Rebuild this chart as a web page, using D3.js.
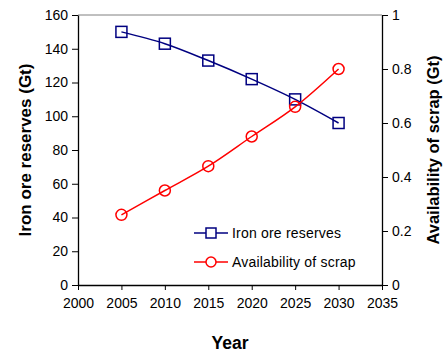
<!DOCTYPE html>
<html>
<head>
<meta charset="utf-8">
<script src="https://cdn.jsdelivr.net/npm/d3@7"></script>
<style>
  body { margin: 0; background: #fff; }
  svg { display: block; font-family: "Liberation Sans", Arial, sans-serif; }
</style>
</head>
<body>
<svg id="chart" width="445" height="356"></svg>
<script>
// Data series
const years = [2005, 2010, 2015, 2020, 2025, 2030];
const ironOreReserves = [150, 143, 133, 122, 110, 96];      // Gt, left axis
const scrapAvailability = [0.26, 0.35, 0.44, 0.55, 0.66, 0.80]; // Gt, right axis
const xTicks = [2000, 2005, 2010, 2015, 2020, 2025, 2030, 2035];
const yLeftTicks = [0, 20, 40, 60, 80, 100, 120, 140, 160];
const yRightTicks = [0, 0.2, 0.4, 0.6, 0.8, 1];
const seriesNames = ["Iron ore reserves", "Availability of scrap"];

const svg = d3.select("#chart");
const plot = { left: 78, right: 382, top: 15, bottom: 285 };

const x = d3.scaleLinear().domain([2000, 2035]).range([plot.left, plot.right]);
const yL = d3.scaleLinear().domain([0, 160]).range([plot.bottom, plot.top]);
const yR = d3.scaleLinear().domain([0, 1]).range([plot.bottom, plot.top]);

// Top frame line
svg.append("line")
  .attr("x1", plot.left).attr("x2", plot.right)
  .attr("y1", plot.top).attr("y2", plot.top)
  .attr("stroke", "#808080").attr("stroke-width", 1);

function styleAxis(g) {
  g.selectAll("path.domain").attr("stroke", "#000").attr("stroke-width", 1.3);
  g.selectAll(".tick line").attr("stroke", "#000").attr("stroke-width", 1);
  g.selectAll(".tick text").attr("fill", "#000").attr("font-size", "14px")
    .attr("font-family", "Liberation Sans, Arial, sans-serif");
}

// Bottom axis
svg.append("g")
  .attr("transform", `translate(0,${plot.bottom})`)
  .call(d3.axisBottom(x).tickValues(xTicks).tickFormat(d3.format("d"))
    .tickSize(5).tickSizeOuter(0).tickPadding(8))
  .call(styleAxis);

// Left axis
svg.append("g")
  .attr("transform", `translate(${plot.left},0)`)
  .call(d3.axisLeft(yL).tickValues(yLeftTicks).tickSize(6).tickSizeOuter(0).tickPadding(4))
  .call(styleAxis);

// Right axis
svg.append("g")
  .attr("transform", `translate(${plot.right},0)`)
  .call(d3.axisRight(yR).tickValues(yRightTicks)
    .tickFormat(d => d === 0 || d === 1 ? d3.format("d")(d) : d3.format(".1f")(d))
    .tickSize(6).tickSizeOuter(0).tickPadding(4))
  .call(styleAxis);

// Axis titles
svg.append("text")
  .attr("x", (plot.left + plot.right) / 2).attr("y", 349)
  .attr("text-anchor", "middle").attr("font-weight", "bold").attr("font-size", "17.5px")
  .text("Year");

svg.append("text")
  .attr("transform", `translate(31,${(plot.top + plot.bottom) / 2}) rotate(-90)`)
  .attr("text-anchor", "middle").attr("font-weight", "bold").attr("font-size", "17px")
  .text("Iron ore reserves (Gt)");

svg.append("text")
  .attr("transform", `translate(439,${(plot.top + plot.bottom) / 2}) rotate(-90)`)
  .attr("text-anchor", "middle").attr("font-weight", "bold").attr("font-size", "16.5px")
  .text("Availability of scrap (Gt)");

const ironColor = "#000080";
const scrapColor = "#ff0000";
const curve = d3.curveCatmullRom.alpha(0.5);

// Iron ore reserves line
const ironPts = years.map((yr, i) => [x(yr), yL(ironOreReserves[i])]);
svg.append("path")
  .attr("d", d3.line().curve(curve)(ironPts))
  .attr("fill", "none").attr("stroke", ironColor).attr("stroke-width", 1.5);
svg.selectAll("rect.iron").data(ironPts).enter().append("rect")
  .attr("class", "iron")
  .attr("x", d => d[0] - 5.5).attr("y", d => d[1] - 5.5)
  .attr("width", 11).attr("height", 11)
  .attr("fill", "none").attr("stroke", ironColor).attr("stroke-width", 1.5);

// Scrap availability line
const scrapPts = years.map((yr, i) => [x(yr), yR(scrapAvailability[i])]);
svg.append("path")
  .attr("d", d3.line().curve(curve)(scrapPts))
  .attr("fill", "none").attr("stroke", scrapColor).attr("stroke-width", 1.5);
svg.selectAll("circle.scrap").data(scrapPts).enter().append("circle")
  .attr("class", "scrap")
  .attr("cx", d => d[0]).attr("cy", d => d[1]).attr("r", 5.5)
  .attr("fill", "none").attr("stroke", scrapColor).attr("stroke-width", 1.5);

// Legend
const legend = svg.append("g");
const legendRows = [
  { name: seriesNames[0], color: ironColor, marker: "square", y: 233 },
  { name: seriesNames[1], color: scrapColor, marker: "circle", y: 262 }
];
legendRows.forEach(r => {
  legend.append("line")
    .attr("x1", 194).attr("x2", 228).attr("y1", r.y).attr("y2", r.y)
    .attr("stroke", r.color).attr("stroke-width", 1.5);
  if (r.marker === "square") {
    legend.append("rect")
      .attr("x", 211 - 5).attr("y", r.y - 5).attr("width", 10).attr("height", 10)
      .attr("fill", "#fff").attr("stroke", r.color).attr("stroke-width", 1.5);
  } else {
    legend.append("circle")
      .attr("cx", 211).attr("cy", r.y).attr("r", 5)
      .attr("fill", "#fff").attr("stroke", r.color).attr("stroke-width", 1.5);
  }
  legend.append("text")
    .attr("x", 232).attr("y", r.y + 5)
    .attr("font-size", "14px").attr("letter-spacing", "0.2px")
    .text(r.name);
});
</script>
</body>
</html>
